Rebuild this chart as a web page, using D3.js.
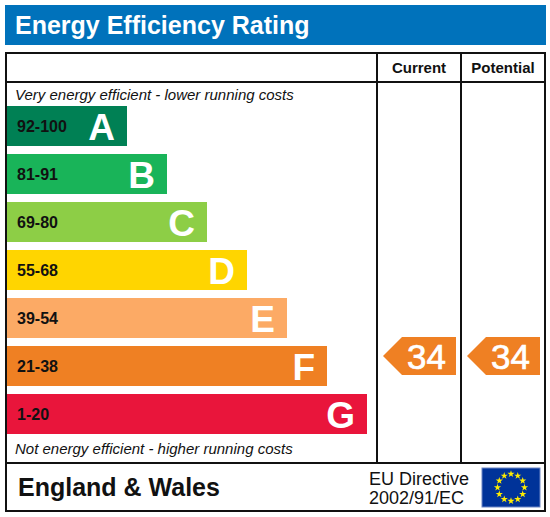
<!DOCTYPE html>
<html>
<head>
<meta charset="utf-8">
<script src="https://cdn.jsdelivr.net/npm/d3@7"></script>
<style>
  body { margin: 0; background: #fff; }
  svg { display: block; font-family: "Liberation Sans", Arial, sans-serif; }
</style>
</head>
<body>
<div id="chart"></div>
<script>
// rating bands, top to bottom
var letters = ['A', 'B', 'C', 'D', 'E', 'F', 'G'];
var ranges = ['92-100', '81-91', '69-80', '55-68', '39-54', '21-38', '1-20'];
var bandMin = [92, 81, 69, 55, 39, 21, 1];
var bandMax = [100, 91, 80, 68, 54, 38, 20];
var colors = ['#008054', '#19b459', '#8dce46', '#ffd500', '#fcaa65', '#ef8023', '#e9153b'];

// ratings shown in the columns
var columns = ['Current', 'Potential'];
var ratings = [34, 34];

var width = 550, height = 517;

var svg = d3.select('#chart').append('svg')
  .attr('width', width)
  .attr('height', height);

// title bar
svg.append('rect')
  .attr('x', 5).attr('y', 5)
  .attr('width', 541).attr('height', 40)
  .attr('fill', '#0072bb');
svg.append('text')
  .attr('x', 15).attr('y', 34)
  .attr('fill', '#fff')
  .attr('font-size', 25)
  .attr('font-weight', 'bold')
  .text('Energy Efficiency Rating');

// scales
var y = d3.scaleBand().domain(letters).range([102, 438]).paddingInner(1 / 6).paddingOuter(1 / 12);
var barEnd = d3.scaleLinear().domain([0, letters.length - 1]).range([127, 367]);
var colX = d3.scaleBand().domain(columns).range([377, 545]);

var bands = letters.map(function (l, i) {
  return { letter: l, range: ranges[i], min: bandMin[i], max: bandMax[i], color: colors[i], i: i };
});

// bars
var bar = svg.selectAll('g.band').data(bands).enter().append('g')
  .attr('class', 'band')
  .attr('transform', function (d) { return 'translate(0,' + y(d.letter) + ')'; });
bar.append('rect')
  .attr('x', 7)
  .attr('width', function (d) { return barEnd(d.i) - 7; })
  .attr('height', y.bandwidth())
  .attr('fill', function (d) { return d.color; });
bar.append('text')
  .attr('x', 17).attr('y', 26)
  .attr('font-size', 16)
  .attr('font-weight', 'bold')
  .attr('fill', '#111')
  .text(function (d) { return d.range; });
bar.append('text')
  .attr('x', function (d) { return barEnd(d.i) - 12; })
  .attr('y', 34)
  .attr('text-anchor', 'end')
  .attr('font-size', 37)
  .attr('font-weight', 'bold')
  .attr('fill', '#fff')
  .text(function (d) { return d.letter; });

// captions
svg.append('text')
  .attr('x', 15).attr('y', 100)
  .attr('font-size', 15).attr('font-style', 'italic').attr('fill', '#111')
  .text('Very energy efficient - lower running costs');
svg.append('text')
  .attr('x', 15).attr('y', 454)
  .attr('font-size', 15).attr('font-style', 'italic').attr('fill', '#111')
  .text('Not energy efficient - higher running costs');

// column headers
svg.selectAll('text.col').data(columns).enter().append('text')
  .attr('class', 'col')
  .attr('x', function (d) { return colX(d) + colX.bandwidth() / 2; })
  .attr('y', 73)
  .attr('text-anchor', 'middle')
  .attr('font-size', 15)
  .attr('font-weight', 'bold')
  .attr('fill', '#111')
  .text(function (d) { return d; });

// rating arrows
function bandOf(v) {
  return bands.filter(function (b) { return v >= b.min && v <= b.max; })[0];
}
var arrows = svg.selectAll('g.arrow').data(ratings).enter().append('g')
  .attr('class', 'arrow')
  .attr('transform', function (d, i) {
    var b = bandOf(d);
    return 'translate(' + (colX(columns[i]) + 6) + ',' + (y(b.letter) + y.bandwidth() / 2 - 10) + ')';
  });
arrows.append('path')
  .attr('d', 'M0,0 L19,-19 L73,-19 L73,19 L19,19 Z')
  .attr('fill', function (d) { return bandOf(d).color; });
arrows.append('text')
  .attr('x', 63).attr('y', 13)
  .attr('text-anchor', 'end')
  .attr('font-size', 35)
  .attr('fill', '#fff')
  .attr('stroke', '#fff')
  .attr('stroke-width', 0.7)
  .text(function (d) { return d; });

// frame lines
var frame = svg.append('g').attr('stroke', '#111').attr('stroke-width', 2).attr('fill', 'none');
frame.append('rect').attr('x', 6).attr('y', 53).attr('width', 539).attr('height', 458);
frame.append('line').attr('x1', 6).attr('x2', 545).attr('y1', 82).attr('y2', 82);
frame.append('line').attr('x1', 6).attr('x2', 545).attr('y1', 463).attr('y2', 463);
frame.selectAll('line.v').data(columns).enter().append('line')
  .attr('class', 'v')
  .attr('x1', function (d) { return colX(d); })
  .attr('x2', function (d) { return colX(d); })
  .attr('y1', 53).attr('y2', 463);

// footer
svg.append('text')
  .attr('x', 18).attr('y', 496)
  .attr('font-size', 25).attr('font-weight', 'bold').attr('fill', '#111')
  .text('England & Wales');
svg.append('text')
  .attr('x', 369).attr('y', 485)
  .attr('font-size', 18).attr('fill', '#111')
  .text('EU Directive');
svg.append('text')
  .attr('x', 369).attr('y', 504)
  .attr('font-size', 18).attr('fill', '#111')
  .text('2002/91/EC');

// EU flag
var flag = svg.append('g').attr('transform', 'translate(482,468)');
flag.append('rect')
  .attr('width', 58).attr('height', 39)
  .attr('fill', '#003399')
  .attr('stroke', '#6d86c4').attr('stroke-width', 1);
var star = d3.symbol().type(d3.symbolStar).size(16);
flag.selectAll('path.star').data(d3.range(12)).enter().append('path')
  .attr('class', 'star')
  .attr('d', star)
  .attr('fill', '#ffed00')
  .attr('transform', function (d) {
    var a = d / 12 * 2 * Math.PI;
    return 'translate(' + (29 + 13.5 * Math.sin(a)) + ',' + (19.5 - 13.5 * Math.cos(a)) + ')';
  });
</script>
</body>
</html>
